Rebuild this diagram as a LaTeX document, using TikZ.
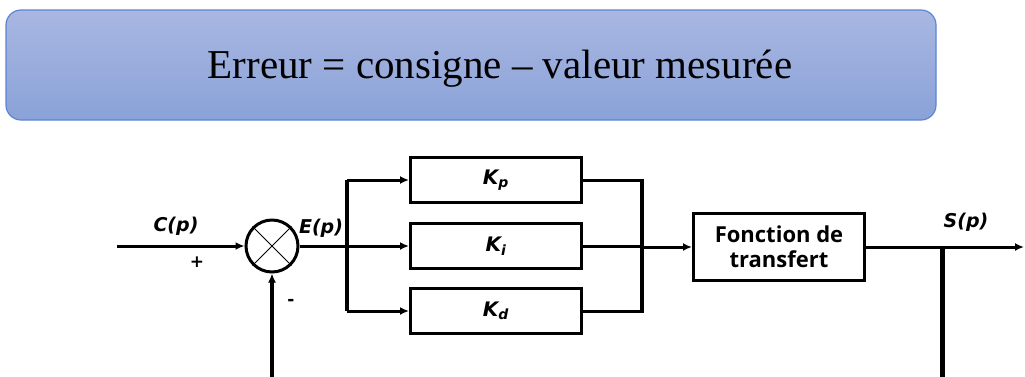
\documentclass[tikz,border=0pt]{standalone}
\usepackage{fontspec}
\setmainfont{Liberation Serif}
\newfontfamily\lblfont{DejaVu Sans}
\newfontfamily\boxfont{Open Sans}
\usetikzlibrary{arrows.meta}
\definecolor{bandtop}{HTML}{A9B7E1}
\definecolor{bandbot}{HTML}{8AA2D8}
\definecolor{bandline}{HTML}{5A86D3}
\tikzset{
  block/.style={draw, line width=3pt, minimum width=171pt, minimum height=45pt, inner sep=0pt},
  sumnode/.style={draw, circle, line width=3pt, minimum size=52pt, inner sep=0pt},
  sig/.style={line width=3pt, -{Latex[length=9pt,width=8pt]}},
  wire/.style={line width=3pt},
  lbl/.style={font=\lblfont\bfseries\itshape\fontsize{19}{19}\selectfont, inner sep=0pt},
  gain/.style={font=\lblfont\bfseries\itshape\fontsize{20}{20}\selectfont}
}
\begin{document}
\begin{tikzpicture}[x=1pt,y=-1pt]
\useasboundingbox (0,0) rectangle (1025,376);
% bandeau du haut
\node (band) [draw=bandline, line width=1.2pt, rounded corners=15pt,
  top color=bandtop, bottom color=bandbot, minimum width=930pt, minimum height=110pt,
  inner sep=0pt] at (471,65) {};
\node (erreur) [font=\fontsize{41}{41}\selectfont, anchor=base] at (500,78)
  {Erreur = consigne -- valeur mesurée};
% blocs
\node (sum) [sumnode] at (272,246) {};
\draw[line width=1pt] (sum.north west) -- (sum.south east);
\draw[line width=1pt] (sum.north east) -- (sum.south west);
\node (kp) [block, gain] at (496,180) {K\textsubscript{p}};
\node (ki) [block, gain] at (496,246) {K\textsubscript{i}};
\node (kd) [block, gain] at (496,311) {K\textsubscript{d}};
\node (ft) [block, minimum height=67pt, align=center,
  font=\boxfont\bfseries\fontsize{22}{25}\selectfont] at (779,247)
  {Fonction de\\transfert};
% points
\coordinate (in) at (117,246);
\coordinate (split) at (347,246);
\coordinate (merge) at (642,246);
\coordinate (fb) at (942,247);
\coordinate (out) at (1024,247);
\coordinate (fbdown) at (942,392);
% textes
\node (cp) [lbl] at (176,226) {C(p)};
\node (ep) [lbl] at (321,228) {E(p)};
\node (sp) [lbl] at (966,222) {S(p)};
\node (plus) [font=\lblfont\bfseries\fontsize{17}{17}\selectfont] at (197,262) {+};
\node (minus) [font=\lblfont\bfseries\fontsize{17}{17}\selectfont] at (291,302) {-};
% liaisons
\draw[sig] (in) -- (sum.west);
\draw[wire] (sum.east) -- (split);
\draw[line width=3.6pt] (kp.west -| split) -- (kd.west -| split);
\draw[sig] (split |- kp.west) -- (kp.west);
\draw[sig] (split) -- (ki.west);
\draw[sig] (split |- kd.west) -- (kd.west);
\draw[wire] (kp.east) -| (merge);
\draw[wire] (kd.east) -| (merge);
\draw[line width=3.6pt] (merge |- kp.east) -- (merge |- kd.east);
\draw[wire] (ki.east) -- (merge);
\draw[sig] (merge |- ft.west) -- (ft.west);
\draw[sig] (ft.east) -- (out);
\draw[line width=5pt] (fb) -- (fbdown);
\draw[sig, line width=3.4pt] (fbdown) -| (sum.south);
\end{tikzpicture}
\end{document}
